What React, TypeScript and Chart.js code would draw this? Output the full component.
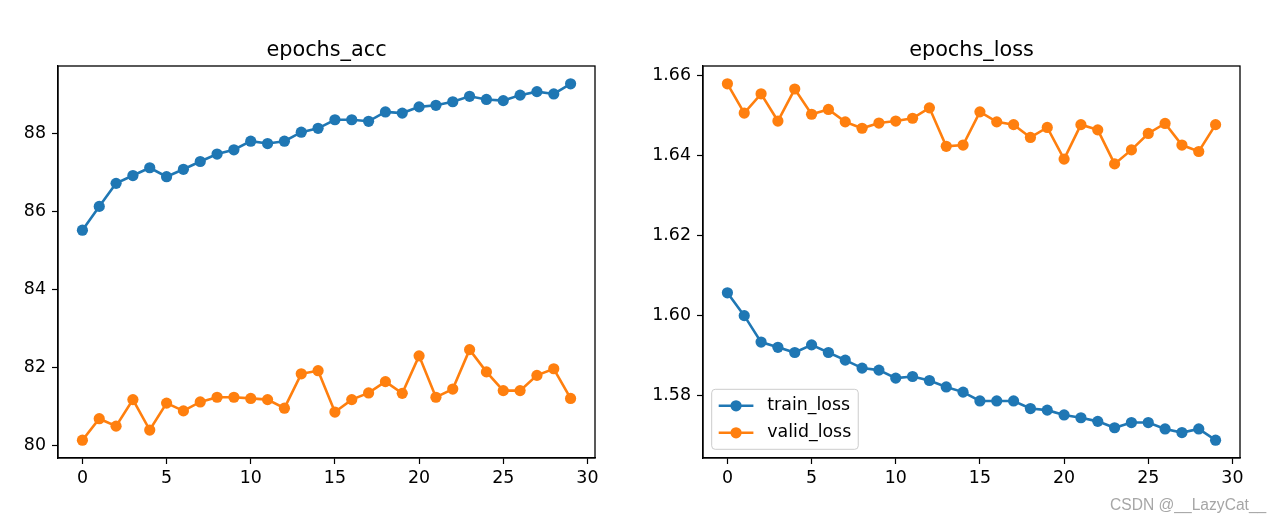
import React, { useEffect, useRef } from "react";
import { Chart, registerables } from "chart.js";

Chart.register(...registerables);

// ---------------- data ----------------
const epochs = [0, 1, 2, 3, 4, 5, 6, 7, 8, 9, 10, 11, 12, 13, 14, 15, 16, 17, 18, 19, 20, 21, 22, 23, 24, 25, 26, 27, 28, 29];

const trainAcc = [85.52, 86.13, 86.72, 86.92, 87.12, 86.89, 87.08, 87.28, 87.47, 87.58, 87.8, 87.74, 87.8, 88.03, 88.13, 88.35, 88.35, 88.31, 88.55, 88.52, 88.68, 88.72, 88.81, 88.95, 88.87, 88.84, 88.98, 89.07, 89.01, 89.27];
const validAcc = [80.14, 80.69, 80.5, 81.18, 80.4, 81.09, 80.89, 81.12, 81.24, 81.24, 81.21, 81.18, 80.96, 81.84, 81.92, 80.86, 81.18, 81.35, 81.64, 81.34, 82.3, 81.24, 81.45, 82.46, 81.89, 81.41, 81.41, 81.8, 81.97, 81.21];

const trainLoss = [1.6056, 1.5999, 1.5933, 1.592, 1.5907, 1.5926, 1.5907, 1.5888, 1.5868, 1.5863, 1.5843, 1.5847, 1.5837, 1.5821, 1.5808, 1.5786, 1.5786, 1.5786, 1.5767, 1.5763, 1.5751, 1.5744, 1.5735, 1.5719, 1.5732, 1.5732, 1.5716, 1.5707, 1.5716, 1.5688];
const validLoss = [1.6578, 1.6505, 1.6553, 1.6485, 1.6565, 1.6502, 1.6514, 1.6483, 1.6467, 1.648, 1.6485, 1.6492, 1.6518, 1.6422, 1.6425, 1.6508, 1.6483, 1.6476, 1.6444, 1.6469, 1.639, 1.6476, 1.6463, 1.6378, 1.6413, 1.6454, 1.6479, 1.6425, 1.6409, 1.6476];

const xTicks = [0, 5, 10, 15, 20, 25, 30];
const accTicks = [80, 82, 84, 86, 88];
const lossTicks = [1.58, 1.6, 1.62, 1.64, 1.66];

const accTitle = "epochs_acc";
const lossTitle = "epochs_loss";
const accLabels = ["train_acc", "valid_acc"];
const lossLabels = ["train_loss", "valid_loss"];
const watermark = "CSDN @__LazyCat__";

// ---------------- style ----------------
const BLUE = "#1f77b4";
const ORANGE = "#ff7f0e";
const FONT = "'DejaVu Sans', sans-serif";
const TICK_PX = 17.4;
const TITLE_PX = 20.8;

function withMargin(values: number[]): [number, number] {
  const mn = Math.min(...values);
  const mx = Math.max(...values);
  const m = (mx - mn) * 0.05;
  return [mn - m, mx + m];
}

function makeChart(
  canvas: HTMLCanvasElement,
  opts: {
    series: number[][];
    labels: string[];
    yTicks: number[];
    yFmt: (v: number) => string;
    title: string;
    leftW: number;
    rightPad: number;
    legend: boolean;
  }
) {
  const [xMin, xMax] = withMargin(epochs);
  const [yMin, yMax] = withMargin(opts.series.flat());
  const colors = [BLUE, ORANGE];

  const framePlugin = {
    id: "frameTitleLegend",
    afterDraw(chart: any) {
      const ctx = chart.ctx as CanvasRenderingContext2D;
      const ca = chart.chartArea;
      ctx.save();
      // frame
      ctx.strokeStyle = "#000";
      ctx.lineWidth = 1.3;
      ctx.strokeRect(ca.left, ca.top, ca.right - ca.left, ca.bottom - ca.top);
      // title
      ctx.fillStyle = "#000";
      ctx.font = `${TITLE_PX}px ${FONT}`;
      ctx.textAlign = "center";
      ctx.textBaseline = "alphabetic";
      ctx.fillText(opts.title, (ca.left + ca.right) / 2, ca.top - 10);
      // legend
      if (opts.legend) {
        const fs = TICK_PX;
        ctx.font = `${fs}px ${FONT}`;
        const pad = 7;
        const handleLen = 34.7;
        const textPad = 13.9;
        const rowH = 19;
        const spacing = 8;
        const textW = Math.max(...opts.labels.map((l) => ctx.measureText(l).width));
        const boxW = pad * 2 + handleLen + textPad + textW;
        const boxH = pad * 2 + rowH * opts.labels.length + spacing * (opts.labels.length - 1);
        const bx = ca.left + 8.7;
        const by = ca.bottom - 8.7 - boxH;
        const r = 3.5;
        ctx.beginPath();
        ctx.moveTo(bx + r, by);
        ctx.lineTo(bx + boxW - r, by);
        ctx.quadraticCurveTo(bx + boxW, by, bx + boxW, by + r);
        ctx.lineTo(bx + boxW, by + boxH - r);
        ctx.quadraticCurveTo(bx + boxW, by + boxH, bx + boxW - r, by + boxH);
        ctx.lineTo(bx + r, by + boxH);
        ctx.quadraticCurveTo(bx, by + boxH, bx, by + boxH - r);
        ctx.lineTo(bx, by + r);
        ctx.quadraticCurveTo(bx, by, bx + r, by);
        ctx.closePath();
        ctx.fillStyle = "rgba(255,255,255,0.8)";
        ctx.fill();
        ctx.strokeStyle = "#cccccc";
        ctx.lineWidth = 1;
        ctx.stroke();
        opts.labels.forEach((label, i) => {
          const cy = by + pad + rowH / 2 + i * (rowH + spacing);
          const hx = bx + pad;
          ctx.strokeStyle = colors[i];
          ctx.lineWidth = 2.6;
          ctx.beginPath();
          ctx.moveTo(hx, cy);
          ctx.lineTo(hx + handleLen, cy);
          ctx.stroke();
          ctx.fillStyle = colors[i];
          ctx.beginPath();
          ctx.arc(hx + handleLen / 2, cy, 5.6, 0, Math.PI * 2);
          ctx.fill();
          ctx.fillStyle = "#000";
          ctx.textAlign = "left";
          ctx.textBaseline = "middle";
          ctx.fillText(label, hx + handleLen + textPad, cy);
        });
      }
      ctx.restore();
    },
  };

  return new Chart(canvas, {
    type: "line",
    data: {
      datasets: opts.series.map((vals, i) => ({
        label: opts.labels[i],
        data: vals.map((v, j) => ({ x: epochs[j], y: v })),
        borderColor: colors[i],
        backgroundColor: colors[i],
        borderWidth: 2.6,
        pointRadius: 5.6,
        pointHoverRadius: 5.6,
        pointBorderWidth: 0,
        pointBackgroundColor: colors[i],
        tension: 0,
        fill: false,
      })),
    },
    options: {
      responsive: false,
      maintainAspectRatio: false,
      animation: false,
      events: [],
      layout: { padding: { left: 0, right: opts.rightPad, top: 66, bottom: 0 } },
      plugins: {
        legend: { display: false },
        title: { display: false },
        tooltip: { enabled: false },
      },
      scales: {
        x: {
          type: "linear",
          min: xMin,
          max: xMax,
          afterBuildTicks: (scale: any) => {
            scale.ticks = xTicks.map((v) => ({ value: v }));
          },
          afterFit: (scale: any) => {
            scale.height = 60;
          },
          grid: {
            drawOnChartArea: false,
            drawTicks: true,
            tickLength: 6,
            tickColor: "#000",
            tickWidth: 1.2,
            color: "#000",
          },
          border: { display: true, color: "#000", width: 1.3 },
          ticks: {
            color: "#000",
            padding: 4,
            maxRotation: 0,
            autoSkip: false,
            font: { family: FONT, size: TICK_PX },
            callback: (v: any) => String(v),
          },
        },
        y: {
          type: "linear",
          min: yMin,
          max: yMax,
          afterBuildTicks: (scale: any) => {
            scale.ticks = opts.yTicks.map((v) => ({ value: v }));
          },
          afterFit: (scale: any) => {
            scale.width = opts.leftW;
          },
          grid: {
            drawOnChartArea: false,
            drawTicks: true,
            tickLength: 6,
            tickColor: "#000",
            tickWidth: 1.2,
            color: "#000",
          },
          border: { display: true, color: "#000", width: 1.3 },
          ticks: {
            color: "#000",
            padding: 6,
            autoSkip: false,
            font: { family: FONT, size: TICK_PX },
            callback: (v: any) => opts.yFmt(Number(v)),
          },
        },
      },
    },
    plugins: [framePlugin],
  } as any);
}

export default function App() {
  const leftRef = useRef<HTMLCanvasElement>(null);
  const rightRef = useRef<HTMLCanvasElement>(null);

  useEffect(() => {
    const c1 = makeChart(leftRef.current!, {
      series: [trainAcc, validAcc],
      labels: accLabels,
      yTicks: accTicks,
      yFmt: (v) => String(Math.round(v)),
      title: accTitle,
      leftW: 58,
      rightPad: 45,
      legend: false,
    });
    const c2 = makeChart(rightRef.current!, {
      series: [trainLoss, validLoss],
      labels: lossLabels,
      yTicks: lossTicks,
      yFmt: (v) => v.toFixed(2),
      title: lossTitle,
      leftW: 63,
      rightPad: 43,
      legend: true,
    });
    return () => {
      c1.destroy();
      c2.destroy();
    };
  }, []);

  return (
    <div
      style={{
        position: "absolute",
        left: 0,
        top: 0,
        width: 1283,
        height: 518,
        background: "#fff",
        overflow: "hidden",
      }}
    >
      <canvas
        ref={leftRef}
        width={640}
        height={518}
        style={{ position: "absolute", left: 0, top: 0, width: 640, height: 518 }}
      />
      <canvas
        ref={rightRef}
        width={643}
        height={518}
        style={{ position: "absolute", left: 640, top: 0, width: 643, height: 518 }}
      />
      <div
        style={{
          position: "absolute",
          left: 1110,
          top: 495,
          fontFamily: "'Liberation Sans', Arial, sans-serif",
          fontSize: 15.6,
          lineHeight: "20px",
          color: "#a6a6a6",
          whiteSpace: "nowrap",
        }}
      >
        {watermark}
      </div>
    </div>
  );
}
